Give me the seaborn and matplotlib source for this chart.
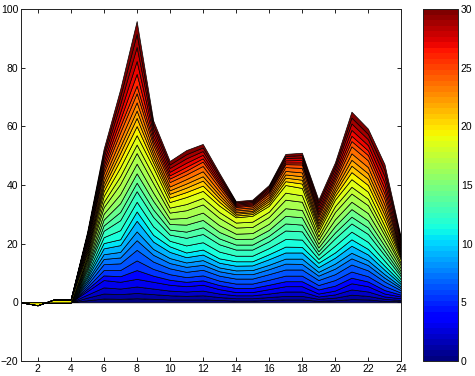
import numpy as np
import matplotlib
matplotlib.use("Agg")
import matplotlib.pyplot as plt
import seaborn as sns

x = list(range(1, 25))
z4 = [0, 0, 0, 0]
L01 = z4 + [0.7,1.3,1.2,1.4,1.2,1.0,1.0,1.0,0.8,0.6,0.6,0.8,1.0,1.0,0.5,0.7,1.1,1.0,0.5,0.4]
L02 = z4 + [0.9,1.7,1.6,1.8,1.6,1.4,1.2,1.4,1.0,0.8,0.8,1.0,1.2,1.2,0.7,0.9,1.5,1.2,0.7,0.4]
L03 = z4 + [1.0,2.1,1.9,2.2,1.9,1.6,1.5,1.6,1.2,1.0,1.0,1.2,1.5,1.5,0.8,1.1,1.8,1.5,0.8,0.6]
L04 = z4 + [1.2,2.5,2.3,2.6,2.3,2.0,1.8,2.0,1.5,1.1,1.1,1.5,1.8,1.8,1.0,1.3,2.1,1.8,1.0,0.6]
L05 = z4 + [0.7,1.6,1.9,3.0,2.1,1.7,1.5,1.5,1.4,1.4,1.4,1.5,1.7,1.7,1.4,1.7,1.9,1.6,1.2,0.6]
L06 = z4 + [0.7,1.8,2.1,3.3,2.3,1.9,1.6,1.7,1.5,1.5,1.5,1.7,1.9,1.9,1.5,1.9,2.1,1.8,1.4,0.7]
L07 = z4 + [0.8,2.0,2.3,3.6,2.5,2.0,1.8,1.9,1.7,1.7,1.7,1.9,2.1,2.1,1.7,2.0,2.4,2.0,1.5,0.8]
L08 = z4 + [0.8,1.8,2.0,3.3,2.3,1.8,1.7,1.7,1.5,1.5,1.5,1.7,2.0,1.9,1.5,1.9,2.1,1.8,1.3,0.7]
L09 = z4 + [0.7,1.6,1.9,3.0,2.0,1.7,1.5,1.6,1.3,1.3,1.4,1.5,1.7,1.8,1.3,1.7,1.9,1.6,1.2,0.6]
L10 = z4 + [0.8,2.0,2.3,3.6,2.5,2.1,1.8,1.9,1.6,1.6,1.6,1.9,2.1,2.1,1.6,2.0,2.4,2.0,1.5,0.8]
L11 = z4 + [0.7,1.8,2.0,3.2,2.3,1.9,1.6,1.7,1.5,1.5,1.4,1.7,2.0,1.9,1.5,1.8,2.2,1.9,1.4,0.7]
L12 = z4 + [0.8,2.0,3.1,3.3,2.9,1.9,2.4,2.5,2.3,1.9,1.9,2.1,2.6,2.5,1.3,2.3,2.6,2.4,1.7,0.9]
L13 = z4 + [0.9,2.2,3.4,3.6,3.2,2.1,2.6,2.8,2.5,2.1,2.1,2.3,2.9,2.8,1.4,2.5,2.8,2.7,1.9,1.0]
L14 = z4 + [0.8,1.8,2.8,2.9,2.6,1.7,2.1,2.3,2.0,1.7,1.7,1.9,2.4,2.3,1.2,2.0,2.3,2.2,1.5,0.8]
L15 = z4 + [0.8,2.0,3.0,3.2,2.9,1.9,2.4,2.5,2.2,1.9,2.0,2.0,2.6,2.5,1.3,2.2,2.6,2.4,1.7,0.9]
L16 = z4 + [0.9,2.0,3.1,3.3,2.8,1.8,2.3,2.5,2.3,1.8,1.9,2.1,2.6,2.5,1.3,2.3,2.5,2.5,1.7,1.0]
L17 = z4 + [0.9,2.2,3.4,3.6,3.2,2.1,2.6,2.8,2.5,2.1,2.1,2.3,2.9,2.8,1.4,2.5,2.8,2.7,1.9,1.0]
L18 = z4 + [0.8,1.8,2.7,2.9,2.6,1.7,2.1,2.2,2.0,1.7,1.8,1.8,2.4,2.2,1.2,2.0,2.3,2.2,1.5,0.8]
L19 = z4 + [0.8,2.0,3.0,3.2,2.8,1.9,2.4,2.4,2.2,1.8,2.0,2.0,2.6,2.5,1.4,2.2,2.6,2.4,1.7,1.1]
L20 = [0, -1, 1, 1] + [0.9,1.7,2.6,3.1,1.7,1.5,1.7,1.8,1.3,0.6,0.6,0.8,1.3,1.5,1.1,1.3,2.4,2.3,2.0,0.6]
L21 = z4 + [0.8,1.5,2.3,2.8,1.5,1.3,1.5,1.7,1.2,0.6,0.6,0.8,1.2,1.3,1.0,1.2,2.2,2.1,1.8,0.5]
L22 = z4 + [0.7,1.4,2.1,2.5,1.4,1.2,1.4,1.5,1.1,0.5,0.5,0.7,1.1,1.2,0.9,1.1,2.0,1.9,1.6,0.5]
L23 = z4 + [0.8,1.5,2.3,2.8,1.5,1.3,1.5,1.7,1.2,0.6,0.6,0.7,1.2,1.3,1.0,1.2,2.2,2.1,1.8,0.5]
L24 = z4 + [0.9,1.7,2.6,3.1,1.6,1.5,1.6,1.8,1.3,0.6,0.6,0.8,1.3,1.5,1.1,1.3,2.4,2.3,2.0,0.5]
L25 = z4 + [0.7,1.3,2.1,2.6,1.3,1.2,1.3,1.5,1.0,0.6,0.6,0.7,1.0,1.2,0.9,1.1,1.8,1.8,1.8,0.4]
L26 = z4 + [0.6,1.3,2.3,4.0,1.3,1.1,1.3,1.1,0.7,0.4,0.4,0.5,0.6,0.7,0.9,1.0,1.8,1.6,1.8,0.8]
L27 = z4 + [0.7,1.4,2.5,4.4,1.4,1.2,1.4,1.2,0.8,0.4,0.4,0.5,0.7,0.8,1.0,1.1,2.0,1.8,2.0,0.9]
L28 = z4 + [0.8,1.5,2.8,4.8,1.5,1.3,1.5,1.3,0.9,0.4,0.4,0.6,0.8,0.9,1.1,1.2,2.2,2.0,2.2,1.0]
L29 = z4 + [0.7,1.4,2.5,4.4,1.4,1.2,1.4,1.2,0.8,0.4,0.4,0.5,0.7,0.8,1.0,1.1,2.0,1.8,2.0,0.9]
L30 = z4 + [0.7,1.4,2.5,4.4,1.4,1.2,1.4,1.2,0.8,0.4,0.4,0.5,0.7,0.8,1.0,1.1,2.0,1.8,2.0,0.9]
layers = [L01, L02, L03, L04, L05, L06, L07, L08, L09, L10,
          L11, L12, L13, L14, L15, L16, L17, L18, L19, L20,
          L21, L22, L23, L24, L25, L26, L27, L28, L29, L30]

x_ticks = list(range(2, 25, 2))
y_ticks = list(range(-20, 101, 20))
cbar_ticks = list(range(0, 31, 5))

sns.set_style("ticks")
plt.rcParams['font.family'] = ['Liberation Sans', 'DejaVu Sans']
plt.rcParams['xtick.direction'] = 'in'
plt.rcParams['ytick.direction'] = 'in'
plt.rcParams['text.color'] = 'black'
plt.rcParams['xtick.color'] = 'black'
plt.rcParams['ytick.color'] = 'black'
plt.rcParams['xtick.labelcolor'] = 'black'
plt.rcParams['ytick.labelcolor'] = 'black'

fig = plt.figure(figsize=(4.75, 3.76), dpi=100)
W, H = 475, 376
ax = fig.add_axes([21 / W, 1 - 361 / H, (401 - 21) / W, (361 - 9) / H])
cax = fig.add_axes([423 / W, 1 - 361 / H, (458 - 423) / W, (361 - 9) / H])

cmap = plt.get_cmap('jet', 64)
colors = [cmap(v) for v in np.linspace(0, 1, len(layers))]
ax.stackplot(x, np.array(layers), colors=colors, edgecolor='black', linewidth=0.5)

ax.set_xlim(1, 24)
ax.set_ylim(-20, 100)
ax.set_xticks(x_ticks)
ax.set_yticks(y_ticks)
ax.tick_params(axis='both', labelsize=7.5, length=3, width=0.6, top=True, right=True, pad=2,
               colors='black', labelcolor='black')
for s in ax.spines.values():
    s.set_visible(True)
    s.set_linewidth(0.7)
    s.set_color('#222222')

sm = matplotlib.cm.ScalarMappable(norm=matplotlib.colors.Normalize(0, 30), cmap=cmap)
cb = fig.colorbar(sm, cax=cax, ticks=cbar_ticks)
cb.ax.tick_params(labelsize=7.5, direction='in', length=3, width=0.6, left=True, right=True, pad=2,
                  colors='black', labelcolor='black')
cb.outline.set_linewidth(0.7)
cb.outline.set_edgecolor('#222222')

fig.savefig("out.png", dpi=100)
